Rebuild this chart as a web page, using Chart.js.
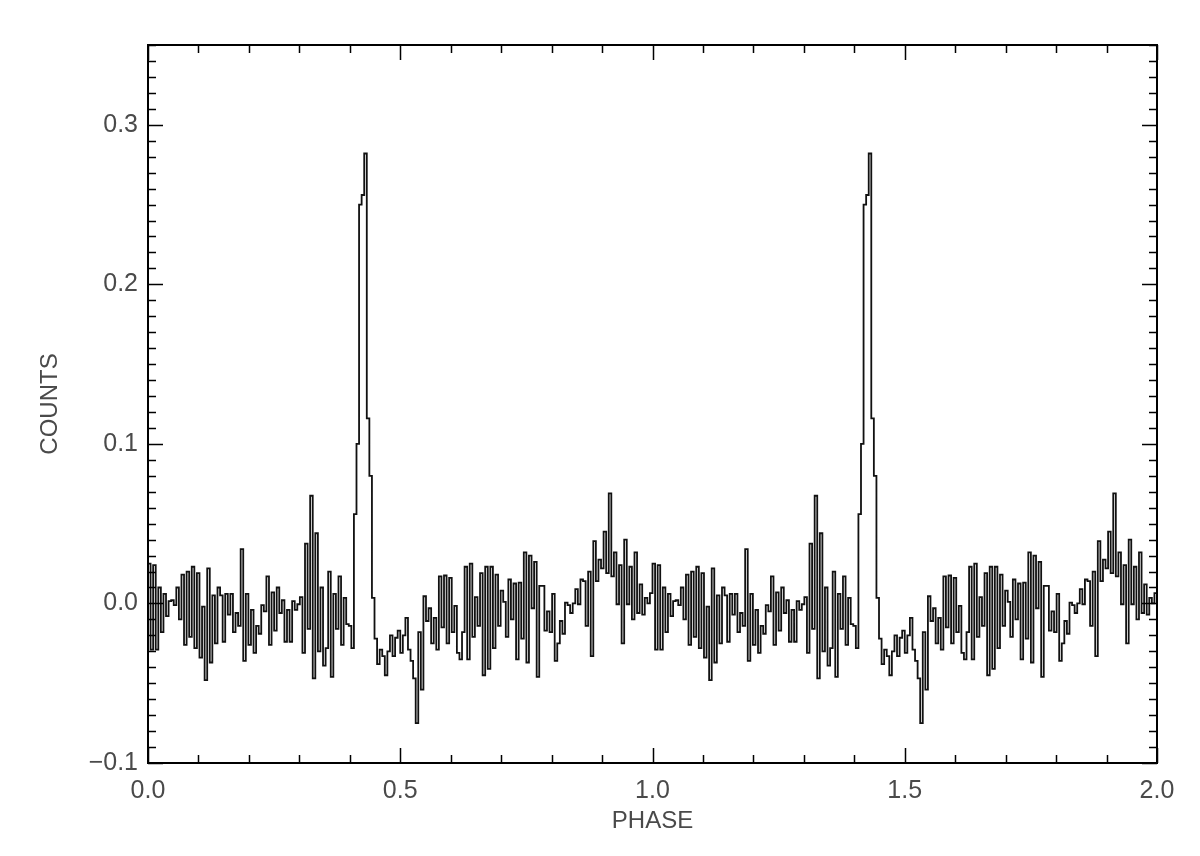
<!DOCTYPE html>
<html>
<head>
<meta charset="utf-8">
<title>Phase histogram</title>
<script src="https://cdn.jsdelivr.net/npm/chart.js@4.4.0/dist/chart.umd.min.js"></script>
<style>
  html, body { margin: 0; padding: 0; background: #fff; }
  canvas { display: block; }
</style>
</head>
<body>
<canvas id="myChart" width="1200" height="856"></canvas>
<script>
// counts in each phase bin for one rotation (the plot shows it twice, phase 0 - 2)
const counts = [
  0.025, -0.029, 0.024, -0.029, 0.010, -0.018, 0.006, -0.008, 0.0015, 0.002,
  -0.001, 0.010, -0.010, 0.018, -0.026, 0.020, -0.021, 0.023, -0.028, 0.019,
  -0.034, -0.002, -0.048, 0.022, -0.037, 0.005, -0.025, 0.010, 0.005, -0.024,
  0.006, -0.007, 0.006, -0.018, -0.006, -0.014, 0.034, -0.036, 0.006, -0.026,
  -0.004, -0.031, -0.014, -0.019, -0.001, -0.005, 0.017, -0.026, 0.007, -0.017,
  0.010, -0.006, 0.002, -0.024, -0.004, -0.024, 0.0015, -0.004, -0.0005, 0.004,
  -0.031, 0.0375, -0.016, 0.0675, -0.047, 0.044, -0.030, 0.010, -0.039, -0.028,
  0.020, -0.046, 0.006, -0.016, 0.017, -0.026, 0.0035, -0.013, -0.014, -0.028,
  0.056, 0.100, 0.250, 0.256, 0.282, 0.116, 0.080, 0.0035, -0.022, -0.038,
  -0.029, -0.033, -0.045, -0.030, -0.020, -0.033, -0.0215, -0.017, -0.031, -0.020,
  -0.009, -0.029, -0.036, -0.047, -0.075, -0.018, -0.054, 0.0045, -0.011, -0.003,
  -0.025, -0.009, -0.029, 0.017, -0.015, 0.0175, -0.025, 0.016, -0.018, -0.0015,
  -0.031, -0.035, -0.018, 0.023, -0.035, 0.025, -0.021, 0.004, -0.014, 0.019,
  -0.045, 0.023, -0.041, 0.023, -0.028, 0.018, -0.014, 0.008, 0.001, -0.021,
  0.015, -0.010, 0.0125, -0.035, 0.013, -0.022, 0.032, -0.037, 0.030, -0.003,
  0.026, -0.046, 0.011, 0.011, -0.017, -0.005, -0.018, 0.006, -0.036, -0.025,
  -0.011, -0.019, 0.0005, -0.001, -0.006, 0.000, 0.009, -0.0005, 0.015, 0.014,
  -0.014, 0.020, -0.033, 0.039, 0.014, 0.0275, 0.022, 0.045, 0.019, 0.069,
  0.017, 0.032, -0.0005, 0.024, -0.025, 0.040, -0.0005, 0.023, -0.010, 0.032,
  -0.006, 0.012, -0.007, 0.0035, 0.000, 0.0065
];
const cycles = 2;

const xTicks = [0, 0.5, 1.0, 1.5, 2.0];
const yTicks = [-0.1, 0.0, 0.1, 0.2, 0.3];
const xMinorStep = 0.1;
const yMinorStep = 0.01;
const xTitle = "PHASE";
const yTitle = "COUNTS";

// step points at the left edge of every bin, plus one to close the last bin
let points = [];
const nBins = counts.length;
for (let c = 0; c < cycles; c++) {
  for (let i = 0; i < nBins; i++) {
    points.push({ x: (c * nBins + i) / nBins, y: counts[i] });
  }
}
points.push({ x: cycles, y: counts[nBins - 1] });

const textColor = '#4a4a4a';
const tickFont = { family: "'Liberation Sans', Arial, sans-serif", size: 25 };
const titleFont = { family: "'Liberation Sans', Arial, sans-serif", size: 24 };

// box round the plot with inward ticks on all four sides
const frameTicks = {
  id: 'frameTicks',
  afterDatasetsDraw(chart) {
    const { ctx, chartArea: a, scales: { x, y } } = chart;
    ctx.save();
    ctx.strokeStyle = '#000';
    ctx.lineWidth = 2;
    ctx.strokeRect(a.left, a.top, a.right - a.left, a.bottom - a.top);
    ctx.lineWidth = 1.5;
    ctx.beginPath();
    const nx = Math.round((x.max - x.min) / xMinorStep);
    for (let k = 0; k <= nx; k++) {
      const v = x.min + k * xMinorStep;
      const px = Math.round(x.getPixelForValue(v)) + 0.5;
      const len = k % 5 === 0 ? 15 : 8;
      ctx.moveTo(px, a.bottom); ctx.lineTo(px, a.bottom - len);
      ctx.moveTo(px, a.top); ctx.lineTo(px, a.top + len);
    }
    const ny = Math.round((y.max - y.min) / yMinorStep);
    for (let k = 0; k <= ny; k++) {
      const v = y.min + k * yMinorStep;
      const py = Math.round(y.getPixelForValue(v)) + 0.5;
      const len = k % 10 === 0 ? 15 : 8;
      ctx.moveTo(a.left, py); ctx.lineTo(a.left + len, py);
      ctx.moveTo(a.right, py); ctx.lineTo(a.right - len, py);
    }
    ctx.stroke();
    ctx.restore();
  }
};

const ctx = document.getElementById('myChart').getContext('2d');
const chart = new Chart(ctx, {
  type: 'line',
  data: {
    datasets: [{
      data: points,
      borderColor: '#111',
      borderWidth: 1.8,
      stepped: true,
      pointRadius: 0,
      fill: false
    }]
  },
  options: {
    responsive: false,
    animation: false,
    devicePixelRatio: 1,
    layout: { padding: { top: 45, right: 43, left: 0, bottom: 0 } },
    plugins: { legend: { display: false }, tooltip: { enabled: false } },
    scales: {
      x: {
        type: 'linear',
        min: 0,
        max: 2,
        grid: { display: false, drawTicks: false },
        border: { display: false },
        afterBuildTicks: s => { s.ticks = xTicks.map(v => ({ value: v })); },
        afterFit: s => { s.height = 93; },
        ticks: {
          font: tickFont, color: textColor, padding: 13,
          maxRotation: 0, autoSkip: false,
          callback: v => v.toFixed(1)
        },
        title: { display: true, text: xTitle, font: titleFont, color: textColor, padding: { top: 0, bottom: 20 } }
      },
      y: {
        type: 'linear',
        min: -0.1,
        max: 0.35,
        grid: { display: false, drawTicks: false },
        border: { display: false },
        afterBuildTicks: s => { s.ticks = yTicks.map(v => ({ value: v })); },
        afterFit: s => { s.width = 148; },
        ticks: {
          font: tickFont, color: textColor, padding: 10,
          callback: v => v.toFixed(1).replace('-', '\u2212')
        },
        title: { display: true, text: yTitle, font: titleFont, color: textColor, padding: { top: 36, bottom: 0 } }
      }
    }
  },
  plugins: [frameTicks]
});
</script>
</body>
</html>
